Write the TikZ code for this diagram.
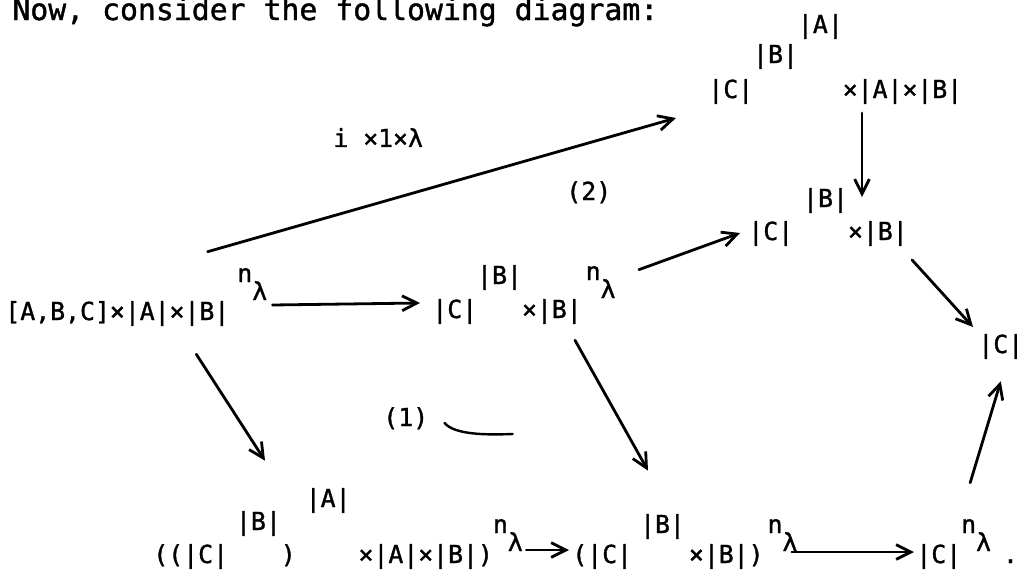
\documentclass[tikz,border=0pt]{standalone}
\usepackage{fontspec}
\setmonofont{DejaVu Sans Mono}[FakeBold=1.3]
\usepackage{tikz}
\usetikzlibrary{arrows.meta, calc}
% raised n with lambda below it
\newcommand{\nlam}[2]{\raisebox{#1}{n}\raisebox{#2}{λ}}
\newcommand{\up}[2]{\raisebox{#1}{#2}}

\begin{document}
\begin{tikzpicture}[
    x=0.5pt, y=-0.5pt,
    >={Straight Barb[length=2.6mm, width=2.6mm]},
    every node/.style={font=\ttfamily\fontsize{12.4}{14}\selectfont, inner sep=0pt, anchor=base west},
    map/.style={->, line width=1.4pt, line cap=round},
]
    \useasboundingbox (0,0) rectangle (1025,578);
    \clip (0,0) rectangle (1025,578);

    % heading
    \node[font=\ttfamily\fontsize{14.9}{16}\selectfont] (hdr) at (12,20) {Now, consider the following diagram:};

    % objects, middle row
    \node (lhs) at (5,320) {[A,B,C]×|A|×|B|\kern4pt\nlam{19pt}{10pt}};
    \node (mid) at (432,318) {|C|\up{17pt}{|B|}×|B|\kern2pt\nlam{19pt}{10pt}};

    % objects, right column
    \node (topr) at (708,98) {|C|\up{17.5pt}{|B|}\up{32.5pt}{|A|}×|A|×|B|};
    \node (midr) at (748,240) {|C|\kern5pt\up{16.5pt}{|B|}×|B|};
    \node (endC) at (978,353) {|C|};

    % objects, bottom row
    \node (botl) at (153,563) {((|C|\kern4pt\up{16.5pt}{|B|})\kern5pt\up{28pt}{|A|}\kern4pt×|A|×|B|)\nlam{15pt}{6pt}};
    \node (botm) at (572,563) {(|C|\kern4pt\up{15pt}{|B|}\kern2pt×|B|)\kern2pt\nlam{15pt}{6pt}};
    \node (botr) at (916,563) {|C|\nlam{15pt}{6pt}\kern6pt.};

    % labels
    \node (lblmap) at (333,147) {i ×1×λ};
    \node (lbltwo) at (566,200) {(2)};
    \node (lblone) at (383,426) {(1)};
    \draw[line width=1.2pt, line cap=round] ($(lblone.base east)+(16,-3)$)
        .. controls +(10,12) and +(-25,1) .. ++(68,11);

    % maps
    \draw[map] ($(lhs.north east)+(-60,-16)$) -- ($(topr.base west)+(-32,20)$);
    \draw[map] ($(lhs.base east)+(5,-15)$) -- ($(mid.base west)+(-12,-15)$);
    \draw[map] ($(mid.north east)+(23,5)$) -- ($(midr.base west)+(-8,-7)$);
    \draw[map] ($(topr.base west)+(154,15)$) -- ($(midr.base west)+(114,-43)$);
    \draw[map] ($(midr.base east)+(4,20)$) -- ($(endC.base west)+(-5,-26)$);
    \draw[map] ($(lhs.south)+(60,28)$) -- ($(botl.north west)+(112,-27)$);
    \draw[map] ($(mid.south west)+(143,16)$) -- ($(botm.north west)+(76,-43)$);
    \draw[map] ($(botl.base east)+(3,-13)$) -- ($(botm.base west)+(-3,-13)$);
    \draw[map] ($(botm.base east)+(-6,-11)$) -- ($(botr.base west)+(-2,-11)$);
    \draw[map] ($(botr.north)+(3,-36)$) -- ($(endC.south)+(0,22)$);
\end{tikzpicture}
\end{document}
